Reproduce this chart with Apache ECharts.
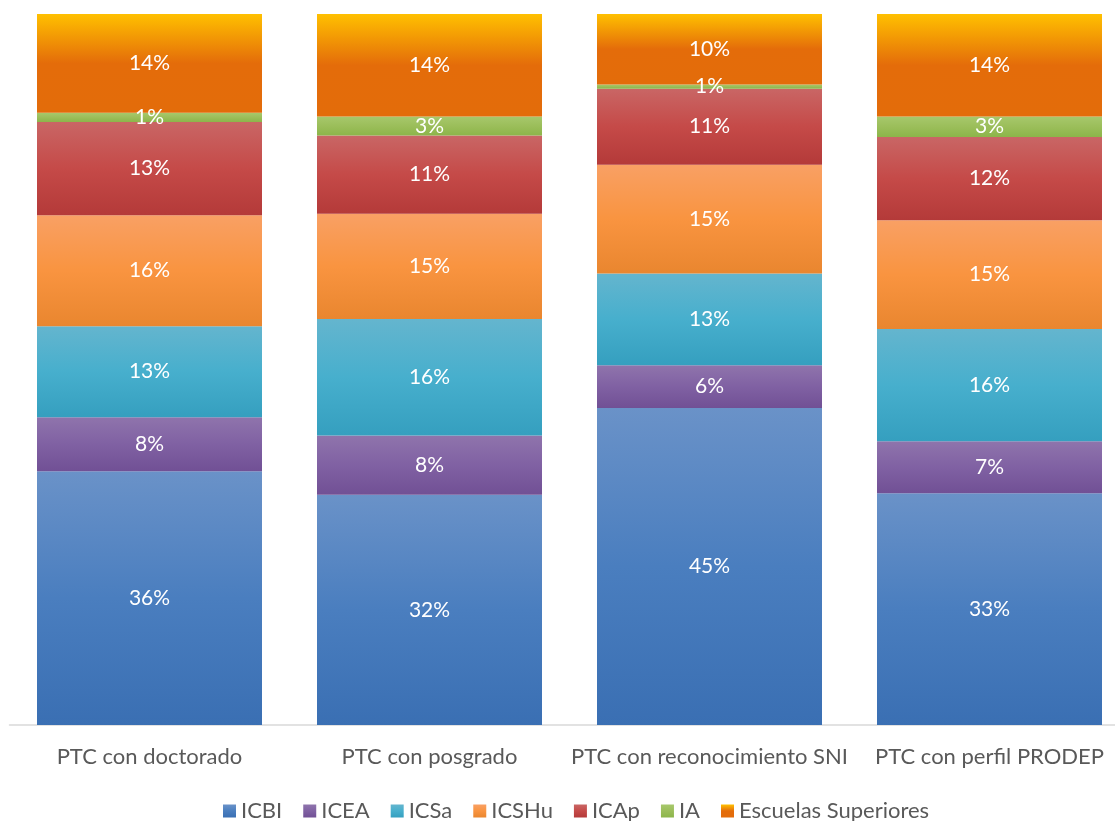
<!DOCTYPE html>
<html>
<head>
<meta charset="utf-8">
<script src="https://cdn.jsdelivr.net/npm/echarts@6/dist/echarts.min.js"></script>
<style>
  html, body { margin: 0; padding: 0; background: #fff; overflow: hidden; }
  #chart { width: 1130px; height: 821px; }
</style>
</head>
<body>
<div id="chart"></div>
<script>
// categorias del eje x
const categories = ["PTC con doctorado", "PTC con posgrado", "PTC con reconocimiento SNI", "PTC con perfil PRODEP"];
const seriesNames = ["ICBI", "ICEA", "ICSa", "ICSHu", "ICAp", "IA", "Escuelas Superiores"];

// porcentajes (cada columna suma 100)
const icbi = [35.7, 32.4, 44.6, 32.6];
const icea = [7.6, 8.3, 6.0, 7.3];
const icsa = [12.8, 16.4, 12.9, 15.8];
const icshu = [15.6, 14.8, 15.3, 15.3];
const icap = [13.1, 11.0, 10.7, 11.7];
const ia = [1.3, 2.7, 0.6, 2.9];
const escuelas = [13.9, 14.4, 9.9, 14.4];

const values = [icbi, icea, icsa, icshu, icap, ia, escuelas];

// degradados estilo excel (arriba -> abajo)
const grads = [
  [[0, "#6a92c8"], [0.5, "#4a7ebf"], [1, "#3a6fb3"]],
  [[0, "#8f74ac"], [0.5, "#8061a3"], [1, "#715095"]],
  [[0, "#64b5ce"], [0.5, "#47afcd"], [1, "#359fbf"]],
  [[0, "#f9a064"], [0.5, "#f99440"], [1, "#e9862f"]],
  [[0, "#c96665"], [0.5, "#c54a48"], [1, "#b43a39"]],
  [[0, "#a7c86c"], [0.5, "#9bbe5a"], [1, "#8cb54a"]],
  [[0, "#ffc000"], [0.5, "#e46c0a"], [1, "#e36c0a"]],
];

const fontFamily = "Lato, 'Open Sans', sans-serif";

let myChart = echarts.init(document.getElementById("chart"));

const series = seriesNames.map((name, i) => ({
  name: name,
  type: "bar",
  stack: "total",
  barWidth: 225,
  data: values[i],
  itemStyle: {
    color: new echarts.graphic.LinearGradient(0, 0, 0, 1,
      grads[i].map((g) => ({ offset: g[0], color: g[1] }))),
  },
  label: {
    show: true,
    position: "inside",
    color: "#fff",
    fontSize: 21,
    fontFamily: fontFamily,
    formatter: (p) => Math.round(p.value) + "%",
  },
  emphasis: { disabled: true },
}));

// el grafico original queda recortado a la derecha, por eso el div es mas ancho
myChart.setOption({
  animation: false,
  grid: {
    left: 9.5,
    top: 14,
    right: 0.5,
    bottom: 96,
    containLabel: false,
  },
  legend: {
    data: seriesNames,
    left: 218,
    top: 795,
    icon: "rect",
    itemWidth: 13,
    itemHeight: 13,
    itemGap: 21,
    textStyle: {
      color: "#595959",
      fontSize: 22,
      fontFamily: fontFamily,
    },
  },
  xAxis: {
    type: "category",
    data: categories,
    axisLine: { lineStyle: { color: "#d9d9d9", width: 1.5 } },
    axisTick: { show: false },
    axisLabel: {
      interval: 0,
      color: "#595959",
      fontSize: 22,
      fontFamily: fontFamily,
      margin: 21,
    },
  },
  yAxis: {
    type: "value",
    min: 0,
    max: 100,
    show: false,
    splitLine: { show: false },
  },
  series: series,
});
</script>
</body>
</html>
